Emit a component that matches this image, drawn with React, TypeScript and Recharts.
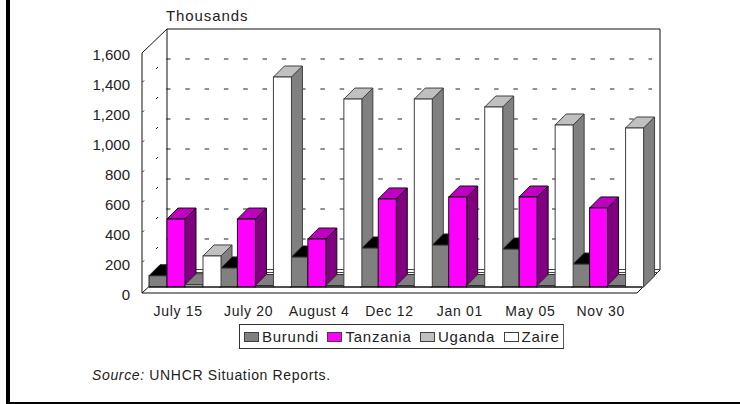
import { BarChart, Bar, XAxis, YAxis, CartesianGrid, Legend } from 'recharts'

const dates = ['July 15', 'July 20', 'August 4', 'Dec 12', 'Jan 01', 'May 05', 'Nov 30']
const burundi = [75, 127, 200, 260, 280, 253, 153]
const tanzania = [453, 453, 320, 587, 600, 600, 527]
const uganda = [15, 10, 10, 10, 10, 10, 10]
const zaire = [207, 1400, 1253, 1253, 1200, 1080, 1060]
const yTicks = [0, 200, 400, 600, 800, 1000, 1200, 1400, 1600]

const data = dates.map((date, i) => ({
  date,
  Burundi: burundi[i],
  Tanzania: tanzania[i],
  Uganda: uganda[i],
  Zaire: zaire[i],
}))

const FONT = '"Liberation Sans", Arial, sans-serif'
const DEPTH = 11
const INK = '#222'

// faces of each 3d bar: top and right side
const FACES: Record<string, { top: string; side: string; stroke: string }> = {
  Burundi: { top: '#000000', side: '#606060', stroke: '#202020' },
  Tanzania: { top: '#c000c0', side: '#800080', stroke: '#101010' },
  Uganda: { top: '#808080', side: '#808080', stroke: '#303030' },
  Zaire: { top: '#c0c0c0', side: '#808080', stroke: '#404040' },
}

function Bar3D(props: any) {
  const { x, y, width, height, fill, value, index, seriesName } = props
  const faces = FACES[seriesName]
  const right = x + width
  const bottom = y + height
  // the next group's Burundi bar stands in front of Zaire's side
  let sideBottom = bottom
  if (seriesName === 'Zaire' && index < burundi.length - 1) {
    sideBottom = bottom - (height / value) * burundi[index + 1]
  }
  return (
    <g stroke={faces.stroke} strokeWidth={1}>
      <polygon
        points={`${right},${y} ${right + DEPTH},${y - DEPTH} ${right + DEPTH},${sideBottom - DEPTH} ${right},${sideBottom}`}
        fill={faces.side}
      />
      <polygon
        points={`${x},${y} ${x + DEPTH},${y - DEPTH} ${right + DEPTH},${y - DEPTH} ${right},${y}`}
        fill={faces.top}
      />
      <rect x={x} y={y} width={width} height={height} fill={fill} />
    </g>
  )
}

// dashed gridline on the back wall plus the two dashes on the side wall
function WallGridLine(props: any) {
  const { y1 } = props
  if (y1 <= 47.5 || y1 >= 286.5) return <g />
  const wallY = y1 - 18
  const frontY = y1 + 6
  return (
    <g stroke="#222" fill="none">
      <line x1={166} x2={652} y1={wallY} y2={wallY} strokeDasharray="4.5 14.8" />
      <line x1={156} x2={158} y1={wallY + 10} y2={wallY + 8} />
      <line x1={142.5} x2={144} y1={frontY - 1} y2={frontY - 2.5} />
    </g>
  )
}

function YTick({ x, y, payload }: any) {
  return (
    <text x={130} y={y + 12.5} textAnchor="end" fontFamily={FONT} fontSize={15} fill={INK}>
      {payload.value.toLocaleString('en-US')}
    </text>
  )
}

function XTick({ x, y, payload }: any) {
  return (
    <text x={x - 6} y={316} textAnchor="middle" fontFamily={FONT} fontSize={14} letterSpacing={0.7} fill={INK}>
      {payload.value}
    </text>
  )
}

function LegendBox({ payload }: any) {
  return (
    <div
      style={{
        boxSizing: 'border-box',
        width: 325,
        height: 25,
        border: '1px solid #333',
        borderRightColor: '#555',
        display: 'flex',
        alignItems: 'center',
        paddingLeft: 4,
        fontFamily: FONT,
        fontSize: 15,
        letterSpacing: 0.75,
        color: INK,
      }}
    >
      {(payload || []).map((entry: any) => (
        <span key={entry.value} style={{ display: 'flex', alignItems: 'center', marginRight: 8.5 }}>
          <span
            style={{
              boxSizing: 'border-box',
              width: 15,
              height: 10,
              marginRight: 3,
              background: entry.color,
              border: '1px solid #404040',
            }}
          />
          {entry.value}
        </span>
      ))}
    </div>
  )
}

export default function App() {
  return (
    <div style={{ position: 'absolute', left: 0, top: 0, width: 740, height: 404, background: '#fff', overflow: 'hidden' }}>
      <BarChart
        width={740}
        height={404}
        data={data}
        barCategoryGap={0}
        barGap={0}
        margin={{ top: 47, right: 98, bottom: 87, left: 0 }}
      >
        {/* walls and floor of the 3d box */}
        <g fill="none" stroke="#111">
          <polyline points="142,293 142,53 167,29 660,29 660,270 637,293 142,293" />
          <line x1={167} y1={29} x2={167} y2={270} />
          <line x1={142} y1={293} x2={167} y2={270} />
          <line x1={167} y1={269.5} x2={660} y2={269.5} stroke="#444" />
          <line x1={160} y1={272.5} x2={658} y2={272.5} stroke="#444" />
        </g>
        <CartesianGrid vertical={false} horizontal={(p: any) => <WallGridLine key={p.key} {...p} />} />
        <XAxis
          dataKey="date"
          height={30}
          interval={0}
          tickLine={false}
          axisLine={{ stroke: '#000' }}
          tick={<XTick />}
        />
        <YAxis
          width={149}
          domain={[0, 1600]}
          ticks={yTicks}
          tickLine={false}
          axisLine={false}
          tick={<YTick />}
        />
        <Legend
          verticalAlign="middle"
          content={<LegendBox />}
          wrapperStyle={{ position: 'absolute', left: 239, top: 324, width: 325, height: 25 }}
        />
        <Bar dataKey="Burundi" name="Burundi" fill="#808080" isAnimationActive={false} shape={(p: any) => <Bar3D {...p} seriesName="Burundi" />} />
        <Bar dataKey="Tanzania" name="Tanzania" fill="#ff00ff" isAnimationActive={false} shape={(p: any) => <Bar3D {...p} seriesName="Tanzania" />} />
        <Bar dataKey="Uganda" name="Uganda" fill="#c0c0c0" isAnimationActive={false} shape={(p: any) => <Bar3D {...p} seriesName="Uganda" />} />
        <Bar dataKey="Zaire" name="Zaire" fill="#ffffff" isAnimationActive={false} shape={(p: any) => <Bar3D {...p} seriesName="Zaire" />} />
        <text x={166} y={21} fontFamily={FONT} fontSize={15} letterSpacing={0.9} fill={INK}>
          Thousands
        </text>
        <text x={92} y={380} fontFamily={FONT} fontSize={14} letterSpacing={0.65} fill={INK}>
          <tspan fontStyle="italic">Source:</tspan> UNHCR Situation Reports.
        </text>
      </BarChart>
      {/* page frame */}
      <div style={{ position: 'absolute', left: 6, top: 0, width: 4, height: 404, background: '#000' }} />
      <div style={{ position: 'absolute', left: 6, top: 402, width: 734, height: 2, background: '#000' }} />
    </div>
  )
}
